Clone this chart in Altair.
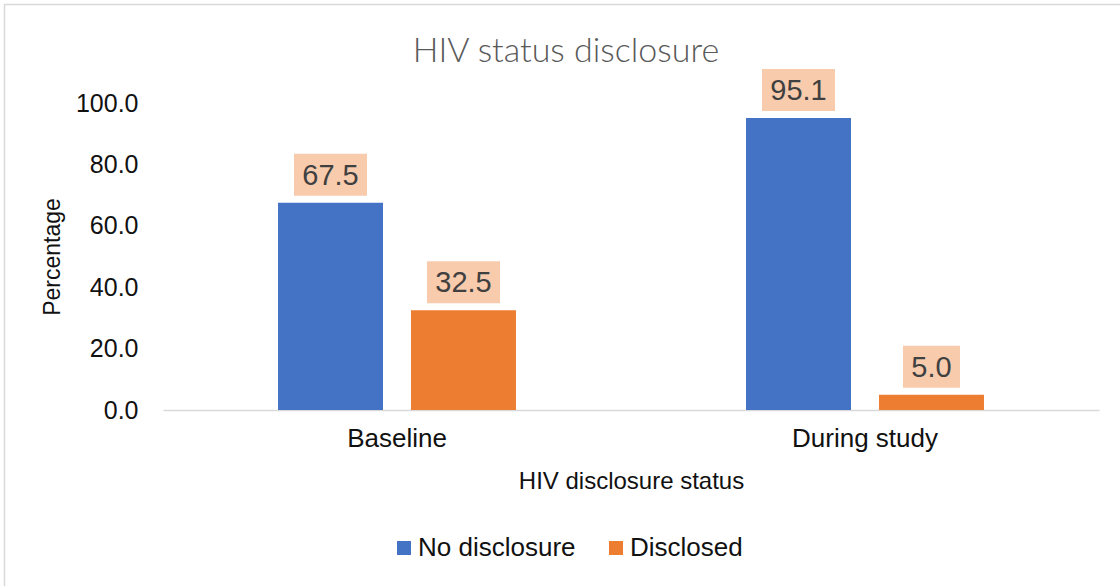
import altair as alt
import pandas as pd

# Share of participants by HIV status disclosure, before and during the study
categories = ["Baseline", "During study"]
series = ["No disclosure", "Disclosed"]
no_disclosure = [67.5, 95.1]
disclosed = [32.5, 5.0]
y_ticks = [0, 20, 40, 60, 80, 100]
bar_colors = ["#4472C4", "#ED7D31"]

rows = []
for i, cat in enumerate(categories):
    rows.append({"status": cat, "group": series[0], "pct": no_disclosure[i]})
    rows.append({"status": cat, "group": series[1], "pct": disclosed[i]})
df = pd.DataFrame(rows)

FONT = "Liberation Sans"
PLOT_W, PLOT_H = 936, 307
LEFT, TOP = 163, 103

x_enc = alt.X(
    "status:N",
    sort=categories,
    scale=alt.Scale(paddingInner=0, paddingOuter=0),
    axis=alt.Axis(
        title="HIV disclosure status",
        labelAngle=0,
        labelFontSize=26,
        labelFont=FONT,
        labelColor="#111111",
        labelPadding=15,
        ticks=False,
        domainColor="#D9D9D9",
        domainWidth=1.5,
        titleFont=FONT,
        titleFontSize=24,
        titleFontWeight="normal",
        titleColor="#111111",
        titleX=PLOT_W / 2,
        titleY=71,
        titleBaseline="middle",
        titleAlign="center",
    ),
)
xoff_enc = alt.XOffset(
    "group:N", sort=series, scale=alt.Scale(paddingInner=0.2105, paddingOuter=0.865)
)
y_enc = alt.Y(
    "pct:Q",
    scale=alt.Scale(domain=[0, 100], nice=False),
    axis=alt.Axis(
        title="Percentage",
        values=y_ticks,
        format=".1f",
        labelFontSize=25,
        labelFont=FONT,
        labelColor="#111111",
        labelPadding=25,
        ticks=False,
        domain=False,
        grid=False,
        titleFont=FONT,
        titleFontSize=23,
        titleFontWeight="normal",
        titleColor="#111111",
        titleAngle=270,
        titleX=52 - LEFT,
        titleY=PLOT_H / 2,
        titleBaseline="middle",
        titleAlign="center",
    ),
)

base = alt.Chart(df).transform_calculate(
    label="format(datum.pct, '.1f')",
    nchar="length(format(datum.pct, '.1f'))",
)

bars = base.mark_bar().encode(
    x=x_enc,
    xOffset=xoff_enc,
    y=y_enc,
    color=alt.Color(
        "group:N",
        sort=series,
        scale=alt.Scale(domain=series, range=bar_colors),
        legend=alt.Legend(
            orient="none",
            legendX=228,
            legendY=432,
            direction="horizontal",
            title=None,
            symbolType="square",
            symbolSize=196,
            symbolStrokeWidth=0,
            labelFont=FONT,
            labelFontSize=26,
            labelColor="#111111",
            labelOffset=1,
            columnPadding=27,
        ),
    ),
)

pos = dict(x=alt.X("status:N", sort=categories), xOffset=alt.XOffset("group:N", sort=series), y="pct:Q")

box_wide = base.transform_filter("datum.nchar >= 4").mark_rect(
    width=73, height=42, align="center", baseline="middle", yOffset=-28, color="#F8CBAD"
).encode(**pos)
box_narrow = base.transform_filter("datum.nchar < 4").mark_rect(
    width=57, height=42, align="center", baseline="middle", yOffset=-28, color="#F8CBAD"
).encode(**pos)

labels = base.mark_text(
    font=FONT, fontSize=29, color="#404040", baseline="middle", align="center", yOffset=-27
).encode(text="label:N", **pos)

title = alt.Chart(alt.Data(values=[{}])).mark_text(
    text="HIV status disclosure",
    font="Lato",
    fontSize=34,
    fontWeight=300,
    color="#595959",
    baseline="alphabetic",
    align="center",
).encode(x=alt.value(566 - LEFT), y=alt.value(62 - TOP))

frame = alt.Chart(alt.Data(values=[{}])).mark_rect(
    fillOpacity=0, stroke="#D9D9D9", strokeWidth=1.5
).encode(
    x=alt.value(4.5 - LEFT),
    x2=alt.value(1130 - LEFT),
    y=alt.value(4.5 - TOP),
    y2=alt.value(600 - TOP),
)

chart = (
    alt.layer(frame, bars, box_wide, box_narrow, labels, title)
    .properties(
        width=PLOT_W,
        height=PLOT_H,
        autosize=alt.AutoSizeParams(type="none"),
        padding={"left": LEFT, "top": TOP, "right": 1120 - LEFT - PLOT_W, "bottom": 586 - TOP - PLOT_H},
        background="white",
    )
    .configure_view(stroke=None)
)

chart.save("out.html", embed_options={"renderer": "svg", "actions": False})
